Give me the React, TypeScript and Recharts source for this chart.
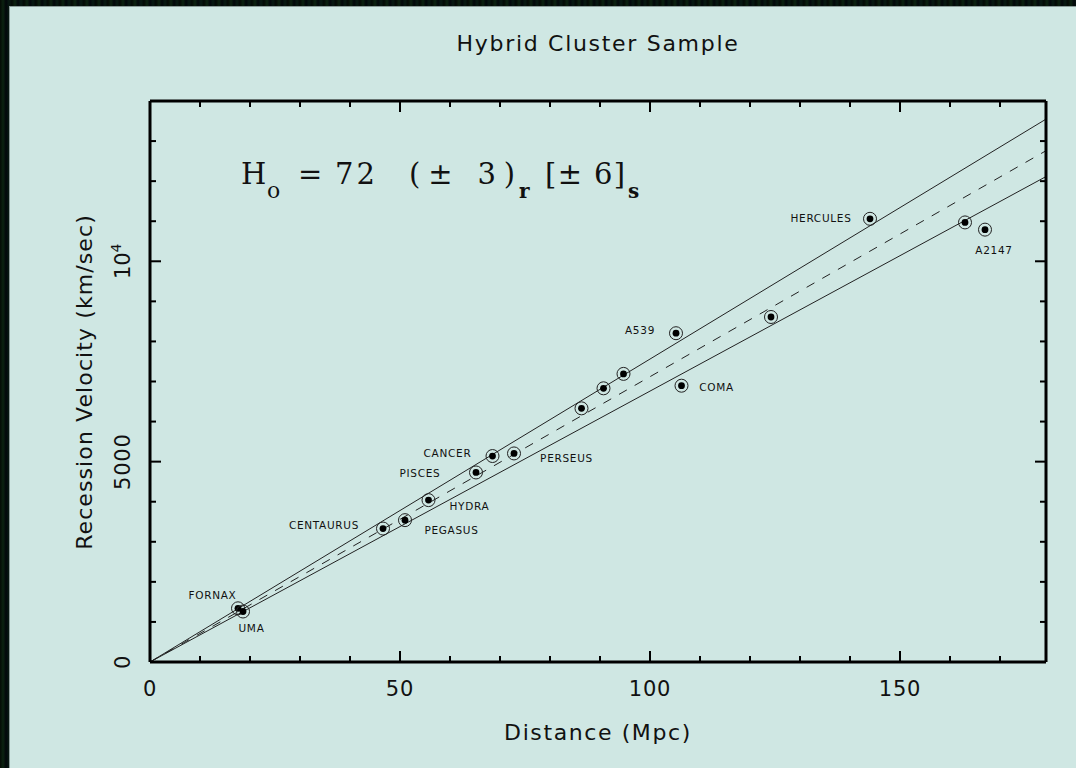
import React from "react";
import { ComposedChart, XAxis, YAxis, Line, Scatter } from "recharts";

// Cluster data: distance (Mpc), recession velocity (km/s)
const clusterNames = ["FORNAX", "UMA", "CENTAURUS", "PEGASUS", "HYDRA", "PISCES", "CANCER", "PERSEUS", "C1", "C2", "C3", "A539", "COMA", "C4", "HERCULES", "C5", "A2147"];
const distances = [17.6, 18.6, 46.6, 51.0, 55.7, 65.2, 68.5, 72.8, 86.3, 90.7, 94.7, 105.2, 106.3, 124.2, 144.0, 163.0, 167.0];
const velocities = [1340, 1260, 3330, 3540, 4040, 4730, 5140, 5205, 6330, 6830, 7190, 8205, 6895, 8610, 11060, 10970, 10790];

// Label anchor points (data coordinates)
const labelTexts = ["HERCULES", "A2147", "A539", "COMA", "CANCER", "PISCES", "PERSEUS", "HYDRA", "CENTAURUS", "PEGASUS", "FORNAX", "UMA"];
const labelX = [134.2, 168.8, 98.0, 113.3, 59.5, 54.0, 83.3, 63.9, 34.8, 60.3, 12.5, 20.3];
const labelY = [11088, 10288, 8288, 6870, 5205, 4705, 5095, 3888, 3412, 3305, 1680, 855];

// Hubble-law lines (km/s/Mpc)
const fitNames = ["upper", "best", "lower"];
const fitSlopes = [75.6, 71.2, 67.6];
const fitDash = ["", "9 9", ""];

const X_MAX = 179.2;
const Y_MAX = 14000;
const xTicks = [0, 10, 20, 30, 40, 50, 60, 70, 80, 90, 100, 110, 120, 130, 140, 150, 160, 170];
const yTicks = [0, 1000, 2000, 3000, 4000, 5000, 6000, 7000, 8000, 9000, 10000, 11000, 12000, 13000, 14000];

const points = distances.map((d, i) => ({ x: d, y: velocities[i], name: clusterNames[i] }));
const labels = labelTexts.map((t, i) => ({ x: labelX[i], y: labelY[i], name: t }));
const fits = fitSlopes.map((h) => [
  { x: 0, y: 0 },
  { x: X_MAX, y: h * X_MAX },
]);

const FONT = "'DejaVu Sans', 'Open Sans', sans-serif";

const BottomTick = (props: any) => {
  const { x, y, payload } = props;
  const v = payload.value;
  const major = v % 50 === 0;
  return (
    <g>
      <line x1={x} x2={x} y1={y} y2={y - (major ? 11 : 6)} stroke="#000" strokeWidth={2} />
      {major && (
        <text x={x} y={y + 34} textAnchor="middle" fontFamily={FONT} fontSize={21} fill="#111" letterSpacing={0.8}>
          {v}
        </text>
      )}
    </g>
  );
};

const TopTick = (props: any) => {
  const { x, y, payload } = props;
  const major = payload.value % 50 === 0;
  return <line x1={x} x2={x} y1={y} y2={y + (major ? 11 : 6)} stroke="#000" strokeWidth={2} />;
};

const LeftTick = (props: any) => {
  const { x, y, payload } = props;
  const v = payload.value;
  const major = v % 5000 === 0;
  let lbl: React.ReactNode = null;
  if (v === 0 || v === 5000) {
    lbl = (
      <text transform={`translate(${x - 20},${y}) rotate(-90)`} textAnchor="middle" fontFamily={FONT} fontSize={21} fill="#111" letterSpacing={0.8}>
        {v}
      </text>
    );
  } else if (v === 10000) {
    lbl = (
      <text transform={`translate(${x - 20},${y}) rotate(-90)`} textAnchor="middle" fontFamily={FONT} fontSize={21} fill="#111">
        10<tspan fontSize={14} dy={-9}>4</tspan>
      </text>
    );
  }
  return (
    <g>
      <line x1={x} x2={x + (major ? 11 : 6)} y1={y} y2={y} stroke="#000" strokeWidth={2} />
      {lbl}
    </g>
  );
};

const RightTick = (props: any) => {
  const { x, y, payload } = props;
  const major = payload.value % 5000 === 0;
  return <line x1={x} x2={x - (major ? 11 : 6)} y1={y} y2={y} stroke="#000" strokeWidth={2} />;
};

const PointShape = (props: any) => {
  const { cx, cy } = props;
  return (
    <g>
      <circle cx={cx} cy={cy} r={6.5} fill="none" stroke="#222" strokeWidth={1} />
      <circle cx={cx} cy={cy} r={3.4} fill="#000" />
    </g>
  );
};

const LabelShape = (props: any) => {
  const { cx, cy, payload } = props;
  return (
    <text x={cx} y={cy} textAnchor="middle" dominantBaseline="central" fontFamily={FONT} fontSize={10.5} fill="#111" letterSpacing={0.7}>
      {payload.name}
    </text>
  );
};

export default function App() {
  return (
    <div
      style={{
        position: "absolute",
        left: 0,
        top: 0,
        width: 1076,
        height: 768,
        overflow: "hidden",
        background:
          "repeating-linear-gradient(90deg, #040a05 0px, #0b2210 3px, #02060a 6px, #071a12 9px, #030805 12px)",
      }}
    >
      <div
        style={{
          position: "absolute",
          left: 9,
          top: 6,
          width: 1067,
          height: 762,
          background: "#cfe7e3",
          borderTop: "1px solid #8a9a98",
          borderLeft: "1px solid #8a9a98",
        }}
      />
      <div
        style={{
          position: "absolute",
          left: 0,
          width: 1076,
          top: 31,
          textAlign: "center",
          fontFamily: FONT,
          fontSize: 22,
          color: "#111",
          paddingLeft: 120,
          boxSizing: "border-box",
          letterSpacing: 1.7,
        }}
      >
        Hybrid Cluster Sample
      </div>
      <div style={{ position: "absolute", left: 0, top: 0 }}>
        <ComposedChart
          width={1076}
          height={768}
          margin={{ top: 100, right: 29, bottom: 76, left: 90 }}
        >
          <XAxis
            xAxisId="b"
            dataKey="x"
            type="number"
            domain={[0, X_MAX]}
            ticks={xTicks}
            interval={0}
            orientation="bottom"
            height={30}
            tickSize={0}
            tickMargin={0}
            tick={<BottomTick />}
            axisLine={{ stroke: "#000", strokeWidth: 3 }}
            allowDataOverflow
          />
          <XAxis
            xAxisId="t"
            dataKey="x"
            type="number"
            domain={[0, X_MAX]}
            ticks={xTicks}
            interval={0}
            orientation="top"
            height={1}
            tickSize={0}
            tickMargin={0}
            tick={<TopTick />}
            axisLine={{ stroke: "#000", strokeWidth: 3 }}
            allowDataOverflow
          />
          <YAxis
            yAxisId="l"
            dataKey="y"
            type="number"
            domain={[0, Y_MAX]}
            ticks={yTicks}
            interval={0}
            orientation="left"
            width={60}
            tickSize={0}
            tickMargin={0}
            tick={<LeftTick />}
            axisLine={{ stroke: "#000", strokeWidth: 3 }}
            allowDataOverflow
          />
          <YAxis
            yAxisId="r"
            dataKey="y"
            type="number"
            domain={[0, Y_MAX]}
            ticks={yTicks}
            interval={0}
            orientation="right"
            width={1}
            tickSize={0}
            tickMargin={0}
            tick={<RightTick />}
            axisLine={{ stroke: "#000", strokeWidth: 3 }}
            allowDataOverflow
          />
          {fits.map((d, i) => (
            <Line
              key={fitNames[i]}
              xAxisId="b"
              yAxisId="l"
              data={d}
              dataKey="y"
              type="linear"
              stroke="#222"
              strokeWidth={1}
              strokeDasharray={fitDash[i]}
              dot={false}
              activeDot={false}
              isAnimationActive={false}
            />
          ))}
          <Scatter
            xAxisId="b"
            yAxisId="l"
            data={points}
            dataKey="y"
            shape={<PointShape />}
            isAnimationActive={false}
          />
          <Scatter
            xAxisId="b"
            yAxisId="l"
            data={labels}
            dataKey="y"
            shape={<LabelShape />}
            isAnimationActive={false}
          />
        </ComposedChart>
      </div>
      {/* axis titles */}
      <div
        style={{
          position: "absolute",
          left: 150,
          width: 896,
          top: 720,
          textAlign: "center",
          fontFamily: FONT,
          fontSize: 22,
          color: "#111",
          letterSpacing: 1.6,
        }}
      >
        Distance (Mpc)
      </div>
      <div
        style={{
          position: "absolute",
          left: 84,
          top: 382,
          transform: "translate(-50%, -50%) rotate(-90deg)",
          whiteSpace: "nowrap",
          fontFamily: FONT,
          fontSize: 22,
          color: "#111",
          letterSpacing: 1.1,
        }}
      >
        Recession Velocity (km/sec)
      </div>
      {/* equation */}
      <svg style={{ position: "absolute", left: 0, top: 0 }} width={1076} height={768}>
        <g fontFamily="'DejaVu Serif', 'Liberation Serif', serif" fill="#111">
          <text x={241} y={184} fontSize={29}>H</text>
          <text x={267} y={198} fontSize={22}>o</text>
          <text x={298} y={184} fontSize={29}>=</text>
          <text x={335} y={184} fontSize={29} textLength={40} lengthAdjust="spacing">72</text>
          <text x={409} y={184} fontSize={29} textLength={106} lengthAdjust="spacing">(± 3)</text>
          <text x={519} y={198} fontSize={20} fontWeight="bold">r</text>
          <text x={545} y={184} fontSize={29} textLength={80} lengthAdjust="spacing">[± 6]</text>
          <text x={628} y={198} fontSize={20} fontWeight="bold">s</text>
        </g>
      </svg>
    </div>
  );
}
